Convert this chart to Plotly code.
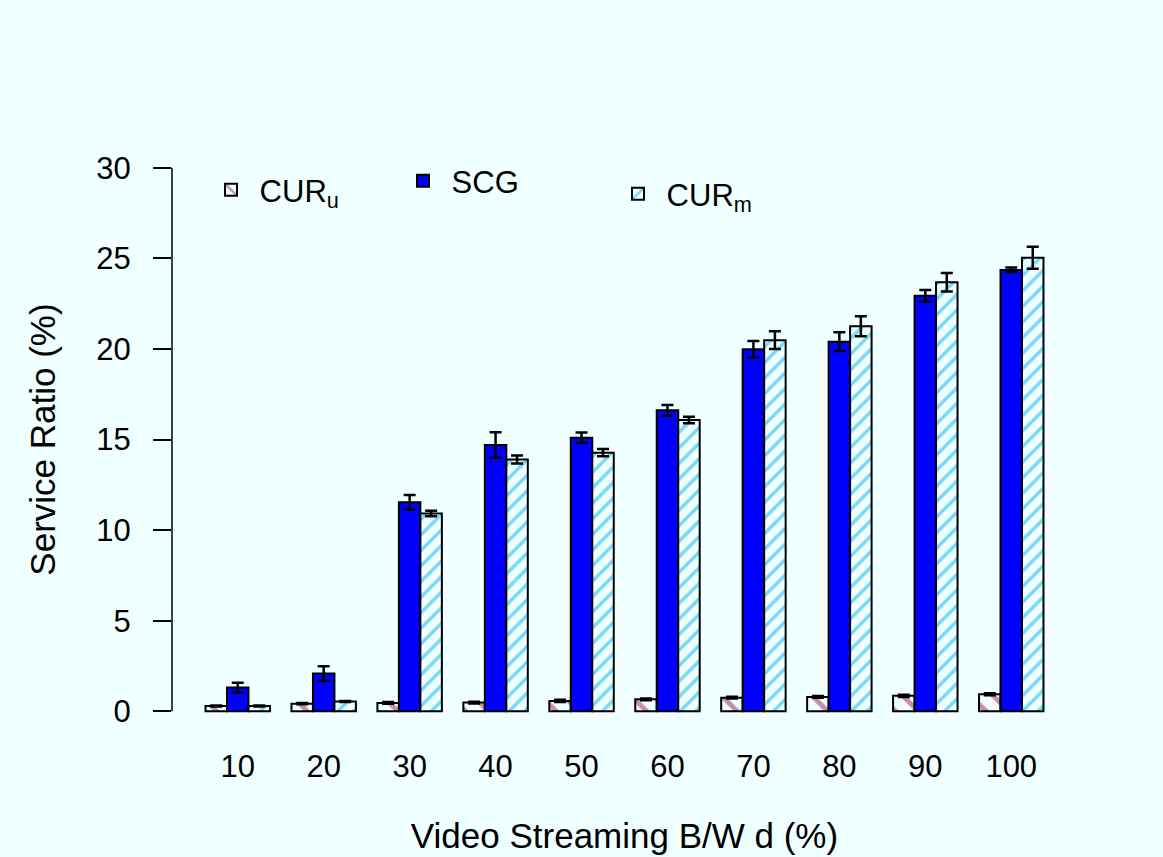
import plotly.graph_objects as go

categories = ["10", "20", "30", "40", "50", "60", "70", "80", "90", "100"]

cur_u = [0.29, 0.42, 0.46, 0.48, 0.57, 0.66, 0.75, 0.79, 0.85, 0.94]
cur_u_err = [0.03, 0.04, 0.05, 0.05, 0.06, 0.05, 0.05, 0.05, 0.06, 0.05]

scg = [1.31, 2.08, 11.53, 14.70, 15.10, 16.61, 19.98, 20.40, 22.93, 24.36]
scg_err = [0.27, 0.41, 0.41, 0.70, 0.28, 0.30, 0.46, 0.52, 0.32, 0.13]

cur_m = [0.29, 0.54, 10.92, 13.89, 14.27, 16.08, 20.48, 21.25, 23.68, 25.03]
cur_m_err = [0.03, 0.03, 0.15, 0.22, 0.20, 0.18, 0.49, 0.55, 0.51, 0.61]

y_ticks = [0, 5, 10, 15, 20, 25, 30]

BG = "#F0FFFF"
FONT = "Liberation Sans, Arial, sans-serif"

def err(arr):
    return dict(type="data", array=arr, visible=True, color="black",
                thickness=2.5, width=6)

fig = go.Figure()
fig.add_trace(go.Bar(
    x=categories, y=cur_u, name="\u00a0CUR<sub>u</sub>", error_y=err(cur_u_err),
    marker=dict(color=BG, line=dict(color="black", width=2),
                pattern=dict(shape="\\", fgcolor="#A0205A", bgcolor=BG,
                             size=16, solidity=0.3)),
    legend="legend", showlegend=True,
))
fig.add_trace(go.Bar(
    x=categories, y=scg, name="\u00a0SCG", error_y=err(scg_err),
    marker=dict(color="#0000FF", line=dict(color="black", width=2)),
    legend="legend2", showlegend=True,
))
fig.add_trace(go.Bar(
    x=categories, y=cur_m, name="\u00a0CUR<sub>m</sub>", error_y=err(cur_m_err),
    marker=dict(color=BG, line=dict(color="black", width=2),
                pattern=dict(shape="/", fgcolor="#00B4F0", bgcolor=BG,
                             size=11, solidity=0.32)),
    legend="legend3", showlegend=True,
))

L, T, W, H = 172, 146, 905, 587

def px_x(px):
    return (px - L) / W

def px_y(py):
    return (T + H - py) / H

legend_common = dict(font=dict(family=FONT, size=31, color="black"),
                     bgcolor="rgba(0,0,0,0)", borderwidth=0,
                     xanchor="left", yanchor="middle", itemwidth=30,
                     visible=True)

fig.update_layout(
    width=1163, height=857,
    margin=dict(l=L, r=1163 - L - W, t=T, b=857 - T - H, autoexpand=False),
    paper_bgcolor=BG, plot_bgcolor=BG,
    barmode="group", bargap=0.25, bargroupgap=0,
    showlegend=True,
    font=dict(family=FONT, size=31, color="black"),
    legend=dict(x=px_x(211), y=px_y(190), **legend_common),
    legend2=dict(x=px_x(403), y=px_y(181), **legend_common),
    legend3=dict(x=px_x(618), y=px_y(194), **legend_common),
    xaxis=dict(type="category", range=[-0.765, 9.765], showgrid=False,
               zeroline=False, showline=False, ticks="", automargin=False,
               tickfont=dict(size=31), ticklabelstandoff=12,
               title=dict(text="Video Streaming B/W d (%)",
                          font=dict(size=35), standoff=40)),
    yaxis=dict(range=[-1.2, 31.2], tickvals=y_ticks, showgrid=False,
               zeroline=False, showline=False, ticks="outside", ticklen=18,
               tickwidth=1.5, tickcolor="black", automargin=False,
               tickfont=dict(size=31), ticklabelstandoff=16,
               title=dict(text="Service Ratio (%)", font=dict(size=35),
                          standoff=30)),
    shapes=[dict(type="line", xref="paper", yref="y", x0=0, x1=0,
                 y0=y_ticks[0], y1=y_ticks[-1],
                 line=dict(color="black", width=1.5))],
)

fig.write_html("out.html")
